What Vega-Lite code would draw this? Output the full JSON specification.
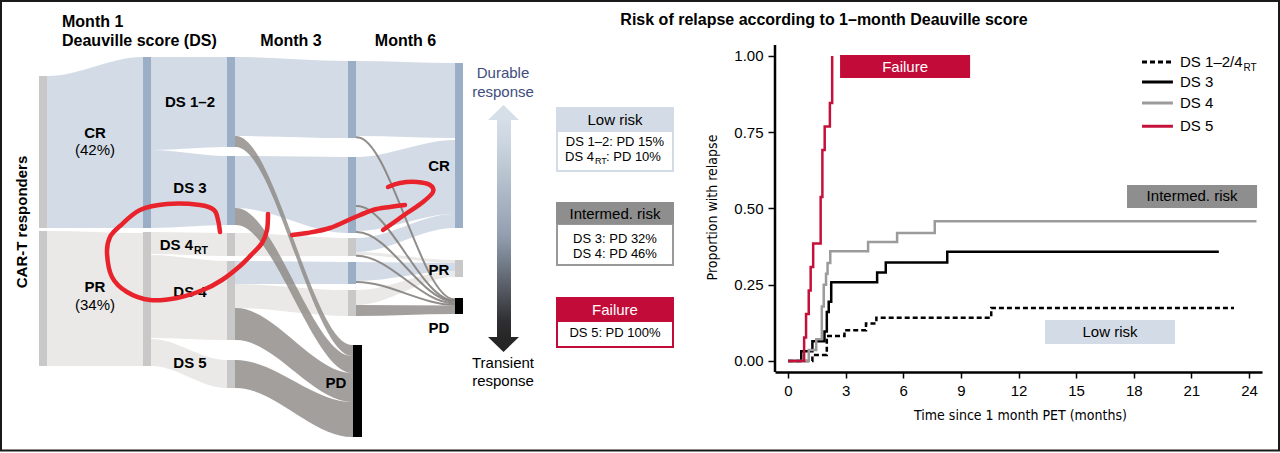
{
"$schema":"https://vega.github.io/schema/vega-lite/v6.json",
"background":"white","padding":0,"spacing":0,"bounds":"flush",
"config":{"view":{"stroke":null},"font":"Liberation Sans"},
"datasets":{
"flowsLight":[
{"f":"F01","x":47,"t":76,"b":228,"c":"CR"},{"f":"F01","x":48,"t":76,"b":228,"c":"CR"},{"f":"F01","x":142,"t":57,"b":228,"c":"CR"},{"f":"F01","x":143,"t":57,"b":228,"c":"CR"},
{"f":"F02","x":47,"t":231,"b":366,"c":"PR"},{"f":"F02","x":48,"t":231,"b":366,"c":"PR"},{"f":"F02","x":142,"t":233,"b":366,"c":"PR"},{"f":"F02","x":143,"t":233,"b":366,"c":"PR"},
{"f":"F11","x":151,"t":57,"b":150,"c":"CR"},{"f":"F11","x":152,"t":57,"b":150,"c":"CR"},{"f":"F11","x":226,"t":57,"b":147,"c":"CR"},{"f":"F11","x":227,"t":57,"b":147,"c":"CR"},
{"f":"F12","x":151,"t":150,"b":228,"c":"CR"},{"f":"F12","x":152,"t":150,"b":228,"c":"CR"},{"f":"F12","x":226,"t":156,"b":225,"c":"CR"},{"f":"F12","x":227,"t":156,"b":225,"c":"CR"},
{"f":"F13","x":151,"t":232,"b":254,"c":"PR"},{"f":"F13","x":152,"t":232,"b":254,"c":"PR"},{"f":"F13","x":226,"t":233,"b":256,"c":"PR"},{"f":"F13","x":227,"t":233,"b":256,"c":"PR"},
{"f":"F14","x":151,"t":255,"b":338,"c":"PR"},{"f":"F14","x":152,"t":255,"b":338,"c":"PR"},{"f":"F14","x":226,"t":261,"b":340,"c":"PR"},{"f":"F14","x":227,"t":261,"b":340,"c":"PR"},
{"f":"F15","x":151,"t":339,"b":366,"c":"PR"},{"f":"F15","x":152,"t":339,"b":366,"c":"PR"},{"f":"F15","x":226,"t":360,"b":388,"c":"PR"},{"f":"F15","x":227,"t":360,"b":388,"c":"PR"},
{"f":"F21","x":235,"t":57,"b":136,"c":"CR"},{"f":"F21","x":236,"t":57,"b":136,"c":"CR"},{"f":"F21","x":347,"t":61,"b":138,"c":"CR"},{"f":"F21","x":348,"t":61,"b":138,"c":"CR"},
{"f":"F23","x":235,"t":156,"b":208,"c":"CR"},{"f":"F23","x":236,"t":156,"b":208,"c":"CR"},{"f":"F23","x":347,"t":157,"b":233,"c":"CR"},{"f":"F23","x":348,"t":157,"b":233,"c":"CR"},
{"f":"F25","x":235,"t":233,"b":256,"c":"PR"},{"f":"F25","x":236,"t":233,"b":256,"c":"PR"},{"f":"F25","x":347,"t":238,"b":256,"c":"PR"},{"f":"F25","x":348,"t":238,"b":256,"c":"PR"},
{"f":"F26","x":235,"t":261,"b":284,"c":"CR"},{"f":"F26","x":236,"t":261,"b":284,"c":"CR"},{"f":"F26","x":347,"t":262,"b":284,"c":"CR"},{"f":"F26","x":348,"t":262,"b":284,"c":"CR"},
{"f":"F27","x":235,"t":284,"b":308,"c":"PR"},{"f":"F27","x":236,"t":284,"b":308,"c":"PR"},{"f":"F27","x":347,"t":290,"b":316,"c":"PR"},{"f":"F27","x":348,"t":290,"b":316,"c":"PR"},
{"f":"F31","x":356,"t":61,"b":136,"c":"CR"},{"f":"F31","x":357,"t":61,"b":136,"c":"CR"},{"f":"F31","x":454,"t":63,"b":138,"c":"CR"},{"f":"F31","x":455,"t":63,"b":138,"c":"CR"},
{"f":"F33","x":356,"t":157,"b":231,"c":"CR"},{"f":"F33","x":357,"t":157,"b":231,"c":"CR"},{"f":"F33","x":454,"t":140,"b":214,"c":"CR"},{"f":"F33","x":455,"t":140,"b":214,"c":"CR"},
{"f":"F35","x":356,"t":238,"b":252,"c":"CR"},{"f":"F35","x":357,"t":238,"b":252,"c":"CR"},{"f":"F35","x":454,"t":214,"b":228,"c":"CR"},{"f":"F35","x":455,"t":214,"b":228,"c":"CR"},
{"f":"F36","x":356,"t":252,"b":255,"c":"PR"},{"f":"F36","x":357,"t":252,"b":255,"c":"PR"},{"f":"F36","x":454,"t":260,"b":263,"c":"PR"},{"f":"F36","x":455,"t":260,"b":263,"c":"PR"},
{"f":"F38","x":356,"t":262,"b":281,"c":"CR"},{"f":"F38","x":357,"t":262,"b":281,"c":"CR"},{"f":"F38","x":454,"t":263,"b":271,"c":"CR"},{"f":"F38","x":455,"t":263,"b":271,"c":"CR"},
{"f":"F40","x":356,"t":290,"b":305,"c":"PR"},{"f":"F40","x":357,"t":290,"b":305,"c":"PR"},{"f":"F40","x":454,"t":271,"b":277,"c":"PR"},{"f":"F40","x":455,"t":271,"b":277,"c":"PR"}
],
"flowsDark":[
{"f":"F22","x":235,"t":136,"b":147},{"f":"F22","x":236,"t":136,"b":147},{"f":"F22","x":352,"t":345,"b":356},{"f":"F22","x":353,"t":345,"b":356},
{"f":"F24","x":235,"t":208,"b":225},{"f":"F24","x":236,"t":208,"b":225},{"f":"F24","x":352,"t":356,"b":373},{"f":"F24","x":353,"t":356,"b":373},
{"f":"F28","x":235,"t":308,"b":340},{"f":"F28","x":236,"t":308,"b":340},{"f":"F28","x":352,"t":373,"b":402},{"f":"F28","x":353,"t":373,"b":402},
{"f":"F29","x":235,"t":360,"b":388},{"f":"F29","x":236,"t":360,"b":388},{"f":"F29","x":352,"t":402,"b":437},{"f":"F29","x":353,"t":402,"b":437},
{"f":"F41","x":356,"t":305,"b":316},{"f":"F41","x":357,"t":305,"b":316},{"f":"F41","x":454,"t":305.5,"b":314},{"f":"F41","x":455,"t":305.5,"b":314}
],
"flowLines":[
{"f":"L1","x":356,"y":137.2},{"f":"L1","x":357,"y":137.2},{"f":"L1","x":454,"y":299.2},{"f":"L1","x":455,"y":299.2},
{"f":"L5","x":356,"y":206},{"f":"L5","x":357,"y":206},{"f":"L5","x":454,"y":300.5},{"f":"L5","x":455,"y":300.5},
{"f":"L2","x":356,"y":232},{"f":"L2","x":357,"y":232},{"f":"L2","x":454,"y":301.5},{"f":"L2","x":455,"y":301.5},
{"f":"L3","x":356,"y":255.7},{"f":"L3","x":357,"y":255.7},{"f":"L3","x":454,"y":303.2},{"f":"L3","x":455,"y":303.2},
{"f":"L4","x":356,"y":282},{"f":"L4","x":357,"y":282},{"f":"L4","x":454,"y":304.8},{"f":"L4","x":455,"y":304.8}
],
"km":[
{"s":"d12","t":0,"p":0},{"s":"d12","t":1.27,"p":0.02},{"s":"d12","t":2.02,"p":0.082},{"s":"d12","t":2.94,"p":0.101},{"s":"d12","t":4.06,"p":0.123},{"s":"d12","t":4.6,"p":0.142},{"s":"d12","t":10.58,"p":0.174},{"s":"d12","t":23.22,"p":0.174},
{"s":"d3","t":0,"p":0},{"s":"d3","t":0.69,"p":0.032},{"s":"d3","t":1.27,"p":0.065},{"s":"d3","t":1.9,"p":0.097},{"s":"d3","t":2.02,"p":0.161},{"s":"d3","t":2.12,"p":0.194},{"s":"d3","t":2.25,"p":0.258},{"s":"d3","t":4.64,"p":0.29},{"s":"d3","t":5.09,"p":0.323},{"s":"d3","t":8.29,"p":0.358},{"s":"d3","t":22.43,"p":0.358},
{"s":"d4","t":0,"p":0},{"s":"d4","t":1.08,"p":0.036},{"s":"d4","t":1.47,"p":0.071},{"s":"d4","t":1.76,"p":0.179},{"s":"d4","t":1.86,"p":0.25},{"s":"d4","t":1.98,"p":0.286},{"s":"d4","t":2.06,"p":0.321},{"s":"d4","t":2.2,"p":0.36},{"s":"d4","t":4.17,"p":0.39},{"s":"d4","t":5.68,"p":0.42},{"s":"d4","t":7.64,"p":0.458},{"s":"d4","t":24.39,"p":0.458},
{"s":"d5","t":0,"p":0},{"s":"d5","t":0.84,"p":0.077},{"s":"d5","t":0.94,"p":0.154},{"s":"d5","t":1.08,"p":0.231},{"s":"d5","t":1.18,"p":0.308},{"s":"d5","t":1.31,"p":0.385},{"s":"d5","t":1.7,"p":0.538},{"s":"d5","t":1.79,"p":0.692},{"s":"d5","t":1.91,"p":0.769},{"s":"d5","t":2.18,"p":0.846},{"s":"d5","t":2.3,"p":1.0}
]
},
"hconcat":[
{"width":775,"height":453,
"resolve":{"scale":{"color":"independent","stroke":"independent"}},
"layer":[
{"data":{"name":"flowsLight"},
 "mark":{"type":"area","interpolate":"monotone","orient":"vertical"},
 "encoding":{"x":{"field":"x","type":"quantitative","scale":{"domain":[0,775],"nice":false,"zero":false},"axis":null},
  "y":{"field":"t","type":"quantitative","scale":{"domain":[0,453],"nice":false,"zero":false,"reverse":true},"axis":null},
  "y2":{"field":"b"},"detail":{"field":"f","type":"nominal"},
  "color":{"field":"c","type":"nominal","scale":{"domain":["CR","PR"],"range":["#d3dce6","#eae9e7"]},"legend":null}}},
{"data":{"name":"flowsDark"},
 "mark":{"type":"area","interpolate":"monotone","orient":"vertical","color":"#8c8783","opacity":0.8},
 "encoding":{"x":{"field":"x","type":"quantitative","scale":{"domain":[0,775],"nice":false,"zero":false},"axis":null},
  "y":{"field":"t","type":"quantitative","scale":{"domain":[0,453],"nice":false,"zero":false,"reverse":true},"axis":null},
  "y2":{"field":"b"},"detail":{"field":"f","type":"nominal"}}},
{"data":{"name":"flowLines"},
 "mark":{"type":"line","interpolate":"monotone","color":"#85817d","strokeWidth":2,"opacity":0.9},
 "encoding":{"x":{"field":"x","type":"quantitative","scale":{"domain":[0,775],"nice":false,"zero":false},"axis":null},
  "y":{"field":"y","type":"quantitative","scale":{"domain":[0,453],"nice":false,"zero":false,"reverse":true},"axis":null},
  "detail":{"field":"f","type":"nominal"}}},
{"data":{"values":[
 {"x":39,"x2":47,"y":76,"y2":228,"c":"gray"},{"x":39,"x2":47,"y":231,"y2":366,"c":"gray"},
 {"x":143,"x2":151,"y":57,"y2":228,"c":"blue"},{"x":143,"x2":151,"y":232,"y2":366,"c":"gray"},
 {"x":227,"x2":235,"y":57,"y2":147,"c":"blue"},{"x":227,"x2":235,"y":156,"y2":225,"c":"blue"},{"x":227,"x2":235,"y":233,"y2":256,"c":"gray"},{"x":227,"x2":235,"y":261,"y2":340,"c":"gray"},{"x":227,"x2":235,"y":360,"y2":388,"c":"gray"},
 {"x":348,"x2":356,"y":61,"y2":138,"c":"blue"},{"x":348,"x2":356,"y":157,"y2":233,"c":"blue"},{"x":348,"x2":356,"y":238,"y2":256,"c":"gray"},{"x":348,"x2":356,"y":262,"y2":284,"c":"blue"},{"x":348,"x2":356,"y":290,"y2":316,"c":"gray"},{"x":353,"x2":362,"y":345,"y2":437,"c":"black"},
 {"x":455,"x2":463,"y":63,"y2":228,"c":"blue"},{"x":455,"x2":463,"y":260,"y2":277,"c":"gray"},{"x":455,"x2":463,"y":298,"y2":314,"c":"black"}]},
 "mark":{"type":"rect"},
 "encoding":{"x":{"field":"x","type":"quantitative","scale":{"domain":[0,775],"nice":false,"zero":false},"axis":null},"x2":{"field":"x2"},
  "y":{"field":"y","type":"quantitative","scale":{"domain":[0,453],"nice":false,"zero":false,"reverse":true},"axis":null},"y2":{"field":"y2"},
  "color":{"field":"c","type":"nominal","scale":{"domain":["blue","gray","black"],"range":["#9aafc6","#c8c8c8","#000000"]},"legend":null}}},
{"data":{"values":[{}]},
 "mark":{"type":"rect","fill":{"gradient":"linear","x1":0,"y1":0,"x2":0,"y2":1,"stops":[{"offset":0,"color":"#d6dee8"},{"offset":0.14,"color":"#c8d2de"},{"offset":0.53,"color":"#939fb0"},{"offset":0.74,"color":"#5f6570"},{"offset":0.92,"color":"#303034"},{"offset":1,"color":"#262626"}]}},
 "encoding":{"x":{"datum":497,"type":"quantitative","scale":{"domain":[0,775],"nice":false,"zero":false},"axis":null},"x2":{"datum":511},
  "y":{"datum":119,"type":"quantitative","scale":{"domain":[0,453],"nice":false,"zero":false,"reverse":true},"axis":null},"y2":{"datum":338}}},
{"data":{"values":[{}]},
 "mark":{"type":"point","shape":"M0,-0.48L1,0.48L-1,0.48Z","size":961,"filled":true,"color":"#d6dee8","opacity":1,"strokeWidth":0},
 "encoding":{"x":{"datum":503.5,"type":"quantitative","scale":{"domain":[0,775],"nice":false,"zero":false},"axis":null},
  "y":{"datum":112.5,"type":"quantitative","scale":{"domain":[0,453],"nice":false,"zero":false,"reverse":true},"axis":null}}},
{"data":{"values":[{}]},
 "mark":{"type":"point","shape":"M0,0.48L1,-0.48L-1,-0.48Z","size":961,"filled":true,"color":"#262626","opacity":1,"strokeWidth":0},
 "encoding":{"x":{"datum":503.5,"type":"quantitative","scale":{"domain":[0,775],"nice":false,"zero":false},"axis":null},
  "y":{"datum":344.5,"type":"quantitative","scale":{"domain":[0,453],"nice":false,"zero":false,"reverse":true},"axis":null}}},
{"data":{"values":[{"r":"low","x":557,"x2":673,"y":131,"y2":171},{"r":"inter","x":557,"x2":673,"y":224,"y2":265},{"r":"fail","x":557,"x2":673,"y":321,"y2":347}]},
 "mark":{"type":"rect","fill":"white","strokeWidth":2},
 "encoding":{"x":{"field":"x","type":"quantitative","scale":{"domain":[0,775],"nice":false,"zero":false},"axis":null},"x2":{"field":"x2"},
  "y":{"field":"y","type":"quantitative","scale":{"domain":[0,453],"nice":false,"zero":false,"reverse":true},"axis":null},"y2":{"field":"y2"},
  "stroke":{"field":"r","type":"nominal","scale":{"domain":["low","inter","fail"],"range":["#d3dce6","#999999","#c20b38"]},"legend":null}}},
{"data":{"values":[{"r":"low","x":556,"x2":674,"y":107,"y2":131},{"r":"inter","x":556,"x2":674,"y":202,"y2":224},{"r":"fail","x":556,"x2":674,"y":297,"y2":321}]},
 "mark":{"type":"rect"},
 "encoding":{"x":{"field":"x","type":"quantitative","scale":{"domain":[0,775],"nice":false,"zero":false},"axis":null},"x2":{"field":"x2"},
  "y":{"field":"y","type":"quantitative","scale":{"domain":[0,453],"nice":false,"zero":false,"reverse":true},"axis":null},"y2":{"field":"y2"},
  "color":{"field":"r","type":"nominal","scale":{"domain":["low","inter","fail"],"range":["#d3dce6","#8e8e8e","#c20b38"]},"legend":null}}},
{"data":{"values":[{"r":"low","x":615,"y":125,"text":"Low risk"},{"r":"inter","x":615,"y":219,"text":"Intermed. risk"},{"r":"fail","x":615,"y":315,"text":"Failure"}]},
 "mark":{"type":"text","fontSize":15,"align":"center","baseline":"alphabetic"},
 "encoding":{"x":{"field":"x","type":"quantitative","scale":{"domain":[0,775],"nice":false,"zero":false},"axis":null},
  "y":{"field":"y","type":"quantitative","scale":{"domain":[0,453],"nice":false,"zero":false,"reverse":true},"axis":null},
  "text":{"field":"text"},
  "color":{"field":"r","type":"nominal","scale":{"domain":["low","inter","fail"],"range":["#000000","#000000","#ffffff"]},"legend":null}}},
{"data":{"values":[{"x":615,"y":146,"text":"DS 1–2: PD 15%"},{"x":615,"y":242.5,"text":"DS 3: PD 32%"},{"x":615,"y":257.5,"text":"DS 4: PD 46%"},{"x":615,"y":337,"text":"DS 5: PD 100%"}]},
 "mark":{"type":"text","fontSize":13,"align":"center","baseline":"alphabetic","color":"#000000"},
 "encoding":{"x":{"field":"x","type":"quantitative","scale":{"domain":[0,775],"nice":false,"zero":false},"axis":null},
  "y":{"field":"y","type":"quantitative","scale":{"domain":[0,453],"nice":false,"zero":false,"reverse":true},"axis":null},"text":{"field":"text"}}},
{"data":{"values":[{"x":594,"y":161,"text":"DS 4"}]},
 "mark":{"type":"text","fontSize":13,"align":"right","baseline":"alphabetic","color":"#000000"},
 "encoding":{"x":{"field":"x","type":"quantitative","scale":{"domain":[0,775],"nice":false,"zero":false},"axis":null},
  "y":{"field":"y","type":"quantitative","scale":{"domain":[0,453],"nice":false,"zero":false,"reverse":true},"axis":null},"text":{"field":"text"}}},
{"data":{"values":[{"x":606,"y":161,"text":": PD 10%"}]},
 "mark":{"type":"text","fontSize":13,"align":"left","baseline":"alphabetic","color":"#000000"},
 "encoding":{"x":{"field":"x","type":"quantitative","scale":{"domain":[0,775],"nice":false,"zero":false},"axis":null},
  "y":{"field":"y","type":"quantitative","scale":{"domain":[0,453],"nice":false,"zero":false,"reverse":true},"axis":null},"text":{"field":"text"}}},
{"data":{"values":[{"x":595,"y":164,"text":"RT"}]},
 "mark":{"type":"text","fontSize":9,"align":"left","baseline":"alphabetic","color":"#000000"},
 "encoding":{"x":{"field":"x","type":"quantitative","scale":{"domain":[0,775],"nice":false,"zero":false},"axis":null},
  "y":{"field":"y","type":"quantitative","scale":{"domain":[0,453],"nice":false,"zero":false,"reverse":true},"axis":null},"text":{"field":"text"}}},
{"data":{"values":[{"x":62,"y":27,"text":"Month 1"},{"x":62,"y":46,"text":"Deauville score (DS)"}]},
 "mark":{"type":"text","fontSize":16,"fontWeight":"bold","align":"left","baseline":"alphabetic","color":"#000000"},
 "encoding":{"x":{"field":"x","type":"quantitative","scale":{"domain":[0,775],"nice":false,"zero":false},"axis":null},
  "y":{"field":"y","type":"quantitative","scale":{"domain":[0,453],"nice":false,"zero":false,"reverse":true},"axis":null},"text":{"field":"text"}}},
{"data":{"values":[{"x":291,"y":46,"text":"Month 3"},{"x":405.5,"y":46,"text":"Month 6"}]},
 "mark":{"type":"text","fontSize":16,"fontWeight":"bold","align":"center","baseline":"alphabetic","color":"#000000"},
 "encoding":{"x":{"field":"x","type":"quantitative","scale":{"domain":[0,775],"nice":false,"zero":false},"axis":null},
  "y":{"field":"y","type":"quantitative","scale":{"domain":[0,453],"nice":false,"zero":false,"reverse":true},"axis":null},"text":{"field":"text"}}},
{"data":{"values":[{"x":27,"y":222,"text":"CAR-T responders"}]},
 "mark":{"type":"text","fontSize":15,"fontWeight":"bold","align":"center","baseline":"alphabetic","angle":270,"color":"#000000"},
 "encoding":{"x":{"field":"x","type":"quantitative","scale":{"domain":[0,775],"nice":false,"zero":false},"axis":null},
  "y":{"field":"y","type":"quantitative","scale":{"domain":[0,453],"nice":false,"zero":false,"reverse":true},"axis":null},"text":{"field":"text"}}},
{"data":{"values":[{"x":95,"y":138,"text":"CR"},{"x":95,"y":292,"text":"PR"},{"x":190,"y":107,"text":"DS 1–2"},{"x":190,"y":193,"text":"DS 3"},{"x":190,"y":297,"text":"DS 4"},{"x":190,"y":368,"text":"DS 5"},{"x":439,"y":171,"text":"CR"},{"x":439,"y":275,"text":"PR"},{"x":439,"y":333,"text":"PD"},{"x":336,"y":388,"text":"PD"}]},
 "mark":{"type":"text","fontSize":15,"fontWeight":"bold","align":"center","baseline":"alphabetic","color":"#000000"},
 "encoding":{"x":{"field":"x","type":"quantitative","scale":{"domain":[0,775],"nice":false,"zero":false},"axis":null},
  "y":{"field":"y","type":"quantitative","scale":{"domain":[0,453],"nice":false,"zero":false,"reverse":true},"axis":null},"text":{"field":"text"}}},
{"data":{"values":[{"x":193,"y":250,"text":"DS 4"}]},
 "mark":{"type":"text","fontSize":15,"fontWeight":"bold","align":"right","baseline":"alphabetic","color":"#000000"},
 "encoding":{"x":{"field":"x","type":"quantitative","scale":{"domain":[0,775],"nice":false,"zero":false},"axis":null},
  "y":{"field":"y","type":"quantitative","scale":{"domain":[0,453],"nice":false,"zero":false,"reverse":true},"axis":null},"text":{"field":"text"}}},
{"data":{"values":[{"x":194,"y":254,"text":"RT"}]},
 "mark":{"type":"text","fontSize":10.5,"fontWeight":"bold","align":"left","baseline":"alphabetic","color":"#000000"},
 "encoding":{"x":{"field":"x","type":"quantitative","scale":{"domain":[0,775],"nice":false,"zero":false},"axis":null},
  "y":{"field":"y","type":"quantitative","scale":{"domain":[0,453],"nice":false,"zero":false,"reverse":true},"axis":null},"text":{"field":"text"}}},
{"data":{"values":[{"x":95,"y":155,"text":"(42%)"},{"x":95,"y":310,"text":"(34%)"},{"x":503,"y":368,"text":"Transient"},{"x":503,"y":386,"text":"response"}]},
 "mark":{"type":"text","fontSize":15,"align":"center","baseline":"alphabetic","color":"#000000"},
 "encoding":{"x":{"field":"x","type":"quantitative","scale":{"domain":[0,775],"nice":false,"zero":false},"axis":null},
  "y":{"field":"y","type":"quantitative","scale":{"domain":[0,453],"nice":false,"zero":false,"reverse":true},"axis":null},"text":{"field":"text"}}},
{"data":{"values":[{"x":503,"y":78,"text":"Durable"},{"x":503,"y":97,"text":"response"}]},
 "mark":{"type":"text","fontSize":15,"align":"center","baseline":"alphabetic","color":"#3e4d7e"},
 "encoding":{"x":{"field":"x","type":"quantitative","scale":{"domain":[0,775],"nice":false,"zero":false},"axis":null},
  "y":{"field":"y","type":"quantitative","scale":{"domain":[0,453],"nice":false,"zero":false,"reverse":true},"axis":null},"text":{"field":"text"}}},
{"data":{"values":[{}]},
 "mark":{"type":"rect","filled":false,"stroke":"#1a1a1a","strokeWidth":2},
 "encoding":{"x":{"datum":1,"type":"quantitative","scale":{"domain":[0,775],"nice":false,"zero":false},"axis":null},"x2":{"datum":1279},
  "y":{"datum":1,"type":"quantitative","scale":{"domain":[0,453],"nice":false,"zero":false,"reverse":true},"axis":null},"y2":{"datum":450.5}}},
{"data":{"values":[
 {"s":"a","k":0,"x":268,"y":214},{"s":"a","k":1,"x":267,"y":230},{"s":"a","k":2,"x":262,"y":243},{"s":"a","k":3,"x":253,"y":253},{"s":"a","k":4,"x":240,"y":266},{"s":"a","k":5,"x":222,"y":280},{"s":"a","k":6,"x":203,"y":290},{"s":"a","k":7,"x":177,"y":298},{"s":"a","k":8,"x":150,"y":300},{"s":"a","k":9,"x":127,"y":292},{"s":"a","k":10,"x":112,"y":277},{"s":"a","k":11,"x":107,"y":253},{"s":"a","k":12,"x":110,"y":237},{"s":"a","k":13,"x":120,"y":226},{"s":"a","k":14,"x":140,"y":210},{"s":"a","k":15,"x":167,"y":204},{"s":"a","k":16,"x":200,"y":205},{"s":"a","k":17,"x":214,"y":210},{"s":"a","k":18,"x":218,"y":220},{"s":"a","k":19,"x":220,"y":232},
 {"s":"b","k":0,"x":292,"y":235},{"s":"b","k":1,"x":307,"y":233},{"s":"b","k":2,"x":330,"y":228},{"s":"b","k":3,"x":353,"y":218},{"s":"b","k":4,"x":373,"y":210},{"s":"b","k":5,"x":390,"y":207},{"s":"b","k":6,"x":405,"y":205},
 {"s":"c","k":0,"x":388,"y":187},{"s":"c","k":1,"x":400,"y":183},{"s":"c","k":2,"x":417,"y":182},{"s":"c","k":3,"x":430,"y":185},{"s":"c","k":4,"x":433,"y":192},{"s":"c","k":5,"x":423,"y":202},{"s":"c","k":6,"x":407,"y":213},{"s":"c","k":7,"x":393,"y":223},{"s":"c","k":8,"x":383,"y":230}]},
 "mark":{"type":"line","interpolate":"cardinal","strokeWidth":4.5,"color":"#e8232b","strokeCap":"round","strokeJoin":"round"},
 "encoding":{"x":{"field":"x","type":"quantitative","scale":{"domain":[0,775],"nice":false,"zero":false},"axis":null},
  "y":{"field":"y","type":"quantitative","scale":{"domain":[0,453],"nice":false,"zero":false,"reverse":true},"axis":null},
  "detail":{"field":"s"},"order":{"field":"k","type":"quantitative"}}}
]},
{"width":487,"height":372,
"resolve":{"scale":{"color":"independent"}},
"layer":[
{"data":{"name":"km"},
 "mark":{"type":"line","interpolate":"step-after","strokeWidth":2.5},
 "encoding":{
  "x":{"field":"t","type":"quantitative","title":"Time since 1 month PET (months)","scale":{"domain":[-0.677,24.677],"nice":false,"zero":false},
   "axis":{"values":[0,3,6,9,12,15,18,21,24],"grid":false,"domain":true,"domainColor":"#000000","domainWidth":2.5,"tickColor":"#000000","tickSize":6,"tickWidth":1.5,"labelFont":"Liberation Sans","labelFontSize":15,"labelColor":"#000000","labelPadding":5,"labelFlush":false,"labelOverlap":false,"titleFont":"DejaVu Sans Condensed","titleFontSize":14,"titleFontWeight":"normal","titleColor":"#000000","titleX":245,"titleY":47,"titleBaseline":"alphabetic","titleAlign":"center"}},
  "y":{"field":"p","type":"quantitative","title":"Proportion with relapse","scale":{"domain":[-0.0361,1.1836],"nice":false,"zero":false},
   "axis":{"values":[0,0.25,0.5,0.75,1],"format":".2f","grid":false,"domain":false,"tickColor":"#000000","tickSize":7,"tickWidth":1.5,"labelFont":"Liberation Sans","labelFontSize":15,"labelColor":"#000000","labelPadding":5,"labelFlush":false,"titleFont":"DejaVu Sans Condensed","titleFontSize":14,"titleFontWeight":"normal","titleColor":"#000000","titleX":-56,"titleY":207,"titleAngle":270,"titleBaseline":"bottom","titleAlign":"center"}},
  "color":{"field":"s","type":"nominal","scale":{"domain":["d12","d3","d4","d5"],"range":["#000000","#000000","#9b9b9b","#c4113b"]},"legend":null},
  "strokeDash":{"field":"s","type":"nominal","scale":{"domain":["d12","d3","d4","d5"],"range":[[5,3],[1,0],[1,0],[1,0]]},"legend":null}}},
{"data":{"values":[{"r":"fail","t":2.71,"t2":9.48,"p":1.003,"p2":0.928},{"r":"inter","t":17.65,"t2":24.42,"p":0.577,"p2":0.502},{"r":"low","t":13.38,"t2":20.15,"p":0.134,"p2":0.056}]},
 "mark":{"type":"rect"},
 "encoding":{"x":{"field":"t","type":"quantitative","title":"Time since 1 month PET (months)","scale":{"domain":[-0.677,24.677],"nice":false,"zero":false}},"x2":{"field":"t2"},
  "y":{"field":"p","type":"quantitative","title":"Proportion with relapse","scale":{"domain":[-0.0361,1.1836],"nice":false,"zero":false}},"y2":{"field":"p2"},
  "color":{"field":"r","type":"nominal","scale":{"domain":["fail","inter","low"],"range":["#c20b38","#8e8e8e","#d3dce6"]},"legend":null}}},
{"data":{"values":[{"r":"fail","t":6.095,"p":0.946,"text":"Failure"},{"r":"inter","t":21.035,"p":0.523,"text":"Intermed. risk"},{"r":"low","t":16.765,"p":0.0787,"text":"Low risk"}]},
 "mark":{"type":"text","fontSize":15,"align":"center","baseline":"alphabetic"},
 "encoding":{"x":{"field":"t","type":"quantitative","title":"Time since 1 month PET (months)","scale":{"domain":[-0.677,24.677],"nice":false,"zero":false}},
  "y":{"field":"p","type":"quantitative","title":"Proportion with relapse","scale":{"domain":[-0.0361,1.1836],"nice":false,"zero":false}},
  "text":{"field":"text"},
  "color":{"field":"r","type":"nominal","scale":{"domain":["fail","inter","low"],"range":["#ffffff","#000000","#000000"]},"legend":null}}},
{"data":{"values":[{}]},
 "mark":{"type":"rule","strokeWidth":2.5,"color":"#000000"},
 "encoding":{"x":{"datum":-0.677,"type":"quantitative"},"y":{"datum":-0.0361,"type":"quantitative"},"y2":{"datum":1.036}}},
{"data":{"values":[{"s":"d12","p":0.98},{"s":"d3","p":0.915},{"s":"d4","p":0.846},{"s":"d5","p":0.77}]},
 "mark":{"type":"rule","strokeWidth":3},
 "encoding":{"x":{"datum":18.43,"type":"quantitative"},"x2":{"datum":20.04},
  "y":{"field":"p","type":"quantitative","title":"Proportion with relapse"},
  "color":{"field":"s","type":"nominal","scale":{"domain":["d12","d3","d4","d5"],"range":["#000000","#000000","#9b9b9b","#c4113b"]},"legend":null},
  "strokeDash":{"field":"s","type":"nominal","scale":{"domain":["d12","d3","d4","d5"],"range":[[5,3],[1,0],[1,0],[1,0]]},"legend":null}}},
{"data":{"values":[{"p":0.964,"text":"DS 1–2/4"},{"p":0.898,"text":"DS 3"},{"p":0.83,"text":"DS 4"},{"p":0.754,"text":"DS 5"}]},
 "mark":{"type":"text","fontSize":15,"align":"left","baseline":"alphabetic","color":"#000000"},
 "encoding":{"x":{"datum":20.41,"type":"quantitative"},"y":{"field":"p","type":"quantitative","title":"Proportion with relapse"},"text":{"field":"text"}}},
{"data":{"values":[{}]},
 "mark":{"type":"text","fontSize":10,"align":"left","baseline":"alphabetic","color":"#000000","text":"RT"},
 "encoding":{"x":{"datum":23.71,"type":"quantitative"},"y":{"datum":0.951,"type":"quantitative"}}},
{"data":{"values":[{}]},
 "mark":{"type":"text","fontSize":16,"fontWeight":"bold","align":"center","baseline":"alphabetic","color":"#000000","text":"Risk of relapse according to 1–month Deauville score"},
 "encoding":{"x":{"datum":1.874,"type":"quantitative"},"y":{"datum":1.1016,"type":"quantitative"}}}
]}
]
}
